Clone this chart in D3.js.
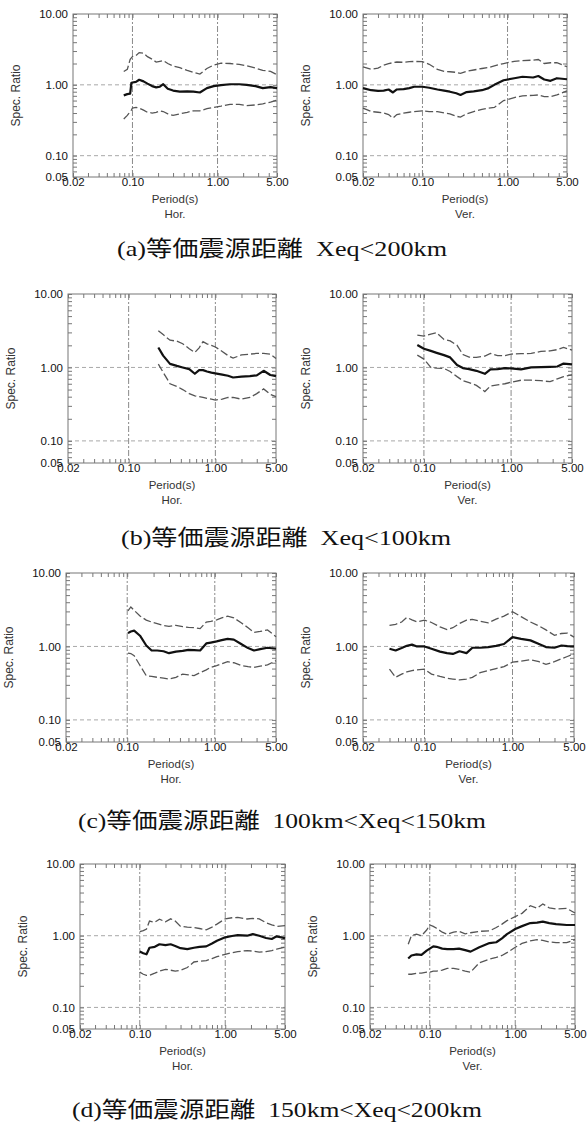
<!DOCTYPE html>
<html>
<head>
<meta charset="utf-8">
<script src="https://cdn.jsdelivr.net/npm/d3@7"></script>
<style>
  body { margin: 0; background: #fff; }
  svg { display: block; }
</style>
</head>
<body>
<div id="chart"></div>
<script>
// AXES
let xTicks = [0.02, 0.1, 1, 5]
let xTickLabels = ['0.02', '0.10', '1.00', '5.00']
let yTicks = [0.05, 0.1, 1, 10]
let yTickLabels = ['0.05', '0.10', '1.00', '10.00']

let captions = [
  '(a)等価震源距離\u2002Xeq<200km',
  '(b)等価震源距離\u2002Xeq<100km',
  '(c)等価震源距離\u2002100km<Xeq<150km',
  '(d)等価震源距離\u2002150km<Xeq<200km'
]

// (a) Hor.
let aHorPeriod = [0.079, 0.087, 0.094, 0.097, 0.1, 0.11, 0.12, 0.135, 0.15, 0.17, 0.19, 0.21, 0.23, 0.26, 0.3, 0.36, 0.44, 0.52, 0.62, 0.75, 0.9, 1.1, 1.4, 1.8, 2.2, 2.8, 3.4, 4.2, 5.0]
let aHorMean  = [0.71, 0.74, 0.75, 1.06, 1.08, 1.10, 1.18, 1.12, 1.04, 0.96, 0.92, 0.94, 1.02, 0.88, 0.83, 0.80, 0.81, 0.80, 0.78, 0.90, 0.96, 0.99, 1.02, 1.02, 1.00, 0.96, 0.90, 0.93, 0.90]
let aHorUpper = [1.54, 1.65, 2.30, 2.40, 2.50, 2.60, 2.85, 2.80, 2.50, 2.30, 2.10, 2.15, 2.20, 2.00, 1.85, 1.75, 1.60, 1.50, 1.42, 1.70, 1.90, 2.02, 2.00, 1.95, 1.86, 1.72, 1.60, 1.55, 1.39]
let aHorLower = [0.33, 0.37, 0.42, 0.44, 0.47, 0.48, 0.47, 0.44, 0.41, 0.40, 0.41, 0.43, 0.42, 0.39, 0.37, 0.39, 0.41, 0.43, 0.43, 0.46, 0.48, 0.50, 0.53, 0.53, 0.51, 0.52, 0.54, 0.57, 0.61]

// (a) Ver.
let aVerPeriod = [0.02, 0.025, 0.03, 0.035, 0.04, 0.045, 0.05, 0.06, 0.07, 0.08, 0.1, 0.12, 0.15, 0.18, 0.21, 0.25, 0.28, 0.33, 0.4, 0.5, 0.6, 0.7, 0.9, 1.2, 1.5, 2.0, 2.3, 2.7, 3.2, 3.8, 5.0]
let aVerMean  = [0.90, 0.84, 0.82, 0.83, 0.86, 0.78, 0.86, 0.87, 0.90, 0.94, 0.94, 0.91, 0.86, 0.83, 0.80, 0.76, 0.72, 0.79, 0.81, 0.84, 0.90, 1.00, 1.16, 1.24, 1.30, 1.27, 1.33, 1.19, 1.14, 1.24, 1.20]
let aVerUpper = [1.80, 1.66, 1.72, 1.90, 2.00, 2.05, 2.10, 2.08, 2.12, 2.14, 2.12, 1.95, 1.65, 1.55, 1.53, 1.50, 1.45, 1.55, 1.62, 1.70, 1.76, 1.85, 2.00, 2.15, 2.20, 2.23, 2.28, 2.00, 2.05, 2.05, 1.80]
let aVerLower = [0.47, 0.42, 0.41, 0.40, 0.38, 0.34, 0.38, 0.40, 0.41, 0.42, 0.43, 0.42, 0.42, 0.40, 0.39, 0.36, 0.35, 0.39, 0.42, 0.45, 0.47, 0.48, 0.60, 0.66, 0.70, 0.71, 0.72, 0.68, 0.68, 0.72, 0.82]

// (b) Hor.
let bHorPeriod = [0.22, 0.25, 0.3, 0.36, 0.42, 0.5, 0.58, 0.65, 0.72, 0.8, 0.9, 1.0, 1.2, 1.4, 1.6, 2.0, 2.5, 3.0, 3.6, 4.3, 5.0]
let bHorMean  = [1.87, 1.45, 1.12, 1.05, 1.00, 0.95, 0.82, 0.92, 0.92, 0.88, 0.85, 0.83, 0.80, 0.77, 0.73, 0.75, 0.76, 0.78, 0.90, 0.79, 0.76]
let bHorUpper = [3.16, 2.80, 2.35, 2.28, 2.10, 1.80, 1.60, 1.85, 2.25, 2.10, 2.00, 1.90, 1.65, 1.45, 1.34, 1.48, 1.52, 1.55, 1.55, 1.52, 1.32]
let bHorLower = [1.11, 0.86, 0.60, 0.55, 0.50, 0.44, 0.41, 0.40, 0.39, 0.38, 0.37, 0.36, 0.37, 0.39, 0.39, 0.37, 0.39, 0.44, 0.51, 0.43, 0.40]

// (b) Ver.
let bVerPeriod = [0.084, 0.1, 0.12, 0.14, 0.17, 0.2, 0.24, 0.28, 0.33, 0.4, 0.5, 0.58, 0.7, 0.85, 1.0, 1.3, 1.7, 2.2, 2.8, 3.4, 4.0, 5.0]
let bVerMean  = [2.02, 1.80, 1.68, 1.58, 1.47, 1.37, 1.08, 0.98, 0.95, 0.90, 0.82, 0.94, 0.95, 0.98, 0.97, 0.94, 1.00, 1.01, 1.02, 1.03, 1.13, 1.10]
let bVerUpper = [2.76, 2.67, 2.85, 2.97, 2.40, 2.30, 2.00, 1.50, 1.38, 1.37, 1.43, 1.55, 1.45, 1.45, 1.52, 1.54, 1.55, 1.65, 1.68, 1.75, 1.87, 1.72]
let bVerLower = [1.47, 1.30, 1.00, 0.98, 0.97, 0.88, 0.75, 0.66, 0.62, 0.57, 0.47, 0.56, 0.58, 0.60, 0.63, 0.67, 0.67, 0.66, 0.64, 0.70, 0.75, 0.79]

// (c) Hor.
let cHorPeriod = [0.102, 0.11, 0.12, 0.14, 0.165, 0.19, 0.22, 0.26, 0.3, 0.36, 0.43, 0.5, 0.58, 0.68, 0.8, 0.9, 1.05, 1.2, 1.4, 1.65, 2.0, 2.4, 2.8, 3.3, 4.0, 5.0]
let cHorMean  = [1.52, 1.60, 1.64, 1.40, 1.03, 0.88, 0.88, 0.86, 0.81, 0.85, 0.87, 0.90, 0.89, 0.88, 1.10, 1.13, 1.17, 1.22, 1.27, 1.24, 1.08, 0.95, 0.88, 0.92, 0.96, 0.93]
let cHorUpper = [3.06, 3.45, 3.10, 2.60, 2.28, 2.15, 2.05, 1.92, 1.88, 1.94, 1.86, 1.82, 1.80, 1.75, 2.15, 2.20, 2.30, 2.45, 2.58, 2.45, 2.10, 1.80, 1.55, 1.60, 1.68, 1.36]
let cHorLower = [0.81, 0.80, 0.75, 0.55, 0.40, 0.39, 0.38, 0.37, 0.36, 0.38, 0.42, 0.41, 0.40, 0.44, 0.48, 0.52, 0.55, 0.58, 0.62, 0.60, 0.55, 0.53, 0.52, 0.54, 0.56, 0.64]

// (c) Ver.
let cVerPeriod = [0.04, 0.047, 0.055, 0.063, 0.072, 0.082, 0.1, 0.12, 0.15, 0.18, 0.21, 0.25, 0.3, 0.35, 0.43, 0.53, 0.65, 0.8, 1.0, 1.25, 1.6, 2.0, 2.4, 3.0, 3.6, 4.2, 5.0]
let cVerMean  = [0.93, 0.88, 0.95, 1.02, 1.06, 1.00, 1.00, 0.93, 0.85, 0.81, 0.79, 0.86, 0.81, 0.96, 0.96, 0.98, 1.02, 1.08, 1.34, 1.27, 1.21, 1.08, 0.98, 0.96, 1.03, 1.01, 1.00]
let cVerUpper = [1.94, 2.00, 2.15, 2.48, 2.30, 2.16, 2.28, 2.12, 1.85, 1.70, 1.80, 2.05, 2.28, 2.33, 2.20, 2.10, 2.35, 2.59, 2.97, 2.55, 2.15, 1.90, 1.68, 1.42, 1.50, 1.52, 1.34]
let cVerLower = [0.49, 0.38, 0.42, 0.45, 0.47, 0.48, 0.49, 0.42, 0.39, 0.37, 0.36, 0.35, 0.36, 0.38, 0.44, 0.47, 0.50, 0.53, 0.61, 0.63, 0.66, 0.62, 0.57, 0.62, 0.68, 0.73, 0.79]

// (d) Hor.
let dHorPeriod = [0.1, 0.11, 0.12, 0.13, 0.15, 0.17, 0.2, 0.23, 0.26, 0.3, 0.36, 0.43, 0.5, 0.6, 0.7, 0.8, 1.0, 1.2, 1.4, 1.8, 2.1, 2.5, 3.0, 3.5, 4.0, 5.0]
let dHorMean  = [0.60, 0.57, 0.55, 0.68, 0.70, 0.76, 0.74, 0.76, 0.72, 0.67, 0.65, 0.68, 0.70, 0.71, 0.78, 0.85, 0.95, 0.99, 1.02, 1.00, 1.05, 1.00, 0.93, 0.90, 0.98, 0.92]
let dHorUpper = [1.14, 1.18, 1.24, 1.60, 1.54, 1.70, 1.56, 1.72, 1.60, 1.35, 1.32, 1.30, 1.26, 1.21, 1.32, 1.45, 1.72, 1.78, 1.80, 1.71, 1.74, 1.72, 1.52, 1.42, 1.35, 1.38]
let dHorLower = [0.31, 0.29, 0.28, 0.28, 0.30, 0.32, 0.34, 0.33, 0.32, 0.33, 0.36, 0.43, 0.44, 0.45, 0.48, 0.51, 0.55, 0.58, 0.60, 0.62, 0.61, 0.59, 0.60, 0.62, 0.65, 0.69]

// (d) Ver.
let dVerPeriod = [0.056, 0.061, 0.07, 0.08, 0.092, 0.1, 0.11, 0.12, 0.14, 0.16, 0.19, 0.22, 0.26, 0.3, 0.38, 0.5, 0.6, 0.7, 0.8, 1.0, 1.2, 1.5, 1.8, 2.1, 2.5, 3.0, 4.0, 5.0]
let dVerMean  = [0.48, 0.53, 0.55, 0.54, 0.62, 0.66, 0.71, 0.70, 0.66, 0.65, 0.65, 0.66, 0.63, 0.60, 0.69, 0.79, 0.81, 0.92, 1.05, 1.24, 1.36, 1.50, 1.52, 1.57, 1.50, 1.45, 1.41, 1.41]
let dVerUpper = [0.76, 1.00, 1.05, 1.00, 1.20, 1.41, 1.35, 1.27, 1.12, 1.05, 1.12, 1.15, 1.06, 1.10, 1.15, 1.17, 1.30, 1.45, 1.62, 1.85, 2.05, 2.62, 2.41, 2.77, 2.45, 2.36, 2.41, 2.07]
let dVerLower = [0.29, 0.29, 0.30, 0.30, 0.31, 0.31, 0.32, 0.32, 0.33, 0.35, 0.35, 0.34, 0.32, 0.31, 0.42, 0.47, 0.50, 0.53, 0.58, 0.69, 0.78, 0.85, 0.88, 0.86, 0.82, 0.80, 0.80, 0.88]

// CHART SETUP
let width = 587, height = 1129

let svg = d3.select('#chart')
  .append('svg')
  .attr('width', width)
  .attr('height', height)

let panels = [
  {period: aHorPeriod, mean: aHorMean, upper: aHorUpper, lower: aHorLower, comp: 'Hor.'},
  {period: aVerPeriod, mean: aVerMean, upper: aVerUpper, lower: aVerLower, comp: 'Ver.'},
  {period: bHorPeriod, mean: bHorMean, upper: bHorUpper, lower: bHorLower, comp: 'Hor.'},
  {period: bVerPeriod, mean: bVerMean, upper: bVerUpper, lower: bVerLower, comp: 'Ver.'},
  {period: cHorPeriod, mean: cHorMean, upper: cHorUpper, lower: cHorLower, comp: 'Hor.'},
  {period: cVerPeriod, mean: cVerMean, upper: cVerUpper, lower: cVerLower, comp: 'Ver.'},
  {period: dHorPeriod, mean: dHorMean, upper: dHorUpper, lower: dHorLower, comp: 'Hor.'},
  {period: dVerPeriod, mean: dVerMean, upper: dVerUpper, lower: dVerLower, comp: 'Ver.'}
]

// plot boxes, measured off the scanned page
let boxes = [
  {x: 73, y: 14, w: 204, h: 163},
  {x: 363, y: 14, w: 204, h: 163},
  {x: 68, y: 294, w: 208, h: 169},
  {x: 363, y: 294, w: 209, h: 169},
  {x: 66, y: 573, w: 210, h: 169},
  {x: 363, y: 573, w: 211, h: 169},
  {x: 80, y: 864, w: 205, h: 165},
  {x: 370, y: 864, w: 205, h: 165}
]

// caption placement: baseline, centre and full width
let captionPos = [
  {y: 256, cx: 282, w: 330},
  {y: 545, cx: 286, w: 330},
  {y: 828, cx: 282, w: 408},
  {y: 1117, cx: 277, w: 410}
]

let sansFont = 'Liberation Sans, Arial, sans-serif'

panels.forEach(function (d, i) {
  let box = boxes[i]
  let x = d3.scaleLog().domain([0.02, 5]).range([0, box.w])
  let y = d3.scaleLog().domain([0.05, 10]).range([box.h, 0])

  let g = svg.append('g')
    .attr('transform', 'translate(' + box.x + ',' + box.y + ')')

  // grid lines
  g.selectAll('.vgrid').data([0.1, 1]).enter().append('line')
    .attr('x1', v => x(v)).attr('x2', v => x(v))
    .attr('y1', 0).attr('y2', box.h)
    .style('stroke', '#8a8a8a')
    .style('stroke-width', 1)
    .style('stroke-dasharray', '6,2,2,2')

  g.selectAll('.hgrid').data([1, 0.1]).enter().append('line')
    .attr('x1', 0).attr('x2', box.w)
    .attr('y1', v => y(v)).attr('y2', v => y(v))
    .style('stroke', '#a8a8a8')
    .style('stroke-width', 1)
    .style('stroke-dasharray', '4,3')

  // minor ticks, pointing inwards on all four sides
  let tickStyle = function (sel) {
    sel.select('.domain').remove()
    sel.selectAll('line').style('stroke', '#777')
  }
  g.append('g').attr('transform', 'translate(0,' + box.h + ')')
    .call(d3.axisBottom(x).tickValues(x.ticks()).tickSizeInner(-4).tickSizeOuter(0).tickFormat(''))
    .call(tickStyle)
  g.append('g')
    .call(d3.axisTop(x).tickValues(x.ticks()).tickSizeInner(-4).tickSizeOuter(0).tickFormat(''))
    .call(tickStyle)
  g.append('g')
    .call(d3.axisLeft(y).tickValues(y.ticks()).tickSizeInner(-4).tickSizeOuter(0).tickFormat(''))
    .call(tickStyle)
  g.append('g').attr('transform', 'translate(' + box.w + ',0)')
    .call(d3.axisRight(y).tickValues(y.ticks()).tickSizeInner(-4).tickSizeOuter(0).tickFormat(''))
    .call(tickStyle)

  // tick labels
  let xAxis = g.append('g').attr('transform', 'translate(0,' + box.h + ')')
    .call(d3.axisBottom(x).tickValues(xTicks).tickSize(0).tickPadding(1)
      .tickFormat((v, k) => xTickLabels[k]))
  xAxis.select('.domain').remove()
  xAxis.selectAll('text')
    .style('font-family', sansFont).style('font-size', '11.5px').style('fill', '#111')

  let yAxis = g.append('g')
    .call(d3.axisLeft(y).tickValues(yTicks).tickSize(0).tickPadding(5)
      .tickFormat((v, k) => yTickLabels[k]))
  yAxis.select('.domain').remove()
  yAxis.selectAll('text')
    .style('font-family', sansFont).style('font-size', '11.5px').style('fill', '#111')

  // frame
  g.append('rect')
    .attr('width', box.w).attr('height', box.h)
    .style('fill', 'none')
    .style('stroke', '#777')
    .style('stroke-width', 1)

  // axis titles
  g.append('text')
    .attr('x', box.w / 2).attr('y', box.h + 22)
    .attr('dy', '0.35em')
    .style('text-anchor', 'middle')
    .style('font-family', sansFont).style('font-size', '11.5px').style('fill', '#333')
    .text('Period(s)')

  g.append('text')
    .attr('x', box.w / 2).attr('y', box.h + 37)
    .attr('dy', '0.35em')
    .style('text-anchor', 'middle')
    .style('font-family', sansFont).style('font-size', '11.5px').style('fill', '#333')
    .text(d.comp)

  g.append('text')
    .attr('transform', 'translate(-57,' + (box.h / 2) + ') rotate(-90)')
    .attr('dy', '0.35em')
    .style('text-anchor', 'middle')
    .style('font-family', sansFont).style('font-size', '12px').style('fill', '#333')
    .text('Spec. Ratio')

  // curves
  let line = d3.line()
    .x((v, k) => x(d.period[k]))
    .y(v => y(v))

  g.append('path').datum(d.upper)
    .attr('d', line)
    .style('fill', 'none').style('stroke', '#555')
    .style('stroke-width', 1.3).style('stroke-dasharray', '8,3')

  g.append('path').datum(d.lower)
    .attr('d', line)
    .style('fill', 'none').style('stroke', '#555')
    .style('stroke-width', 1.3).style('stroke-dasharray', '8,3')

  g.append('path').datum(d.mean)
    .attr('d', line)
    .style('fill', 'none').style('stroke', '#111')
    .style('stroke-width', 2.2).style('stroke-linejoin', 'round')
})

// CAPTIONS
svg.selectAll('.caption')
  .data(captions)
  .enter().append('text')
  .attr('class', 'caption')
  .attr('x', (c, i) => captionPos[i].cx)
  .attr('y', (c, i) => captionPos[i].y)
  .attr('textLength', (c, i) => captionPos[i].w)
  .attr('lengthAdjust', 'spacingAndGlyphs')
  .style('text-anchor', 'middle')
  .style('font-family', 'Liberation Serif, "Noto Sans CJK JP", serif')
  .style('font-size', '22px')
  .style('fill', '#111')
  .text(c => c)
</script>
</body>
</html>
